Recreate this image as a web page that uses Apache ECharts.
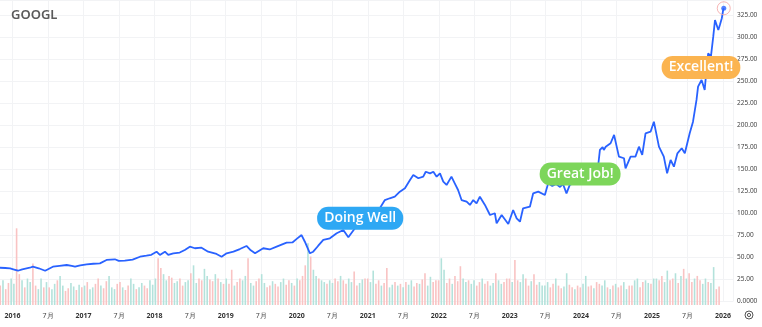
<!DOCTYPE html>
<html>
<head>
<meta charset="utf-8">
<script src="https://cdn.jsdelivr.net/npm/echarts@6/dist/echarts.min.js"></script>
<style>html,body{margin:0;padding:0;background:#fff;}#c{width:762px;height:327px;}</style>
</head>
<body>
<div id="c"></div>
<script>
const symbolName = 'GOOGL';

const priceDates = [
'2015-10-28','2015-11-25','2015-12-20','2016-01-05','2016-01-29','2016-02-20','2016-03-30','2016-04-15','2016-05-15','2016-06-17',
'2016-07-27','2016-08-30','2016-10-06','2016-11-01','2016-11-18','2016-12-15','2017-01-17','2017-02-20','2017-03-26','2017-04-29',
'2017-06-11','2017-07-01','2017-08-01','2017-09-10','2017-10-18','2017-11-20','2017-12-15','2018-01-11','2018-01-28','2018-02-23',
'2018-03-12','2018-04-07','2018-05-10','2018-06-05','2018-07-01','2018-07-27','2018-08-30','2018-10-03','2018-11-15','2018-12-11',
'2019-01-06','2019-02-10','2019-03-15','2019-04-18','2019-05-10','2019-06-01','2019-07-13','2019-08-15','2019-09-20','2019-11-10',
'2019-12-10','2020-01-01','2020-01-26','2020-02-12','2020-03-09','2020-03-26','2020-04-20','2020-05-17','2020-06-20','2020-07-25',
'2020-08-28','2020-09-23','2020-10-27','2020-11-25','2020-12-28','2021-01-25','2021-03-04','2021-03-30','2021-04-24','2021-05-20',
'2021-06-15','2021-07-11','2021-08-06','2021-08-23','2021-09-18','2021-10-13','2021-10-26','2021-11-17','2021-12-04','2021-12-21',
'2022-01-07','2022-01-24','2022-02-10','2022-03-07','2022-03-24','2022-04-10','2022-04-28','2022-05-24','2022-06-10','2022-06-27',
'2022-07-14','2022-07-31','2022-08-26','2022-09-21','2022-10-16','2022-10-25','2022-11-20','2022-12-24','2023-01-18','2023-02-05',
'2023-02-22','2023-03-10','2023-04-14','2023-05-01','2023-05-27','2023-06-30','2023-07-17','2023-08-07','2023-08-27','2023-09-16',
'2023-10-01','2023-10-19','2023-11-05','2023-12-09','2024-01-11','2024-02-16','2024-03-05','2024-03-28','2024-04-08','2024-04-22',
'2024-04-28','2024-05-08','2024-06-02','2024-06-20','2024-07-15','2024-08-10','2024-08-18','2024-09-13','2024-10-08','2024-10-26',
'2024-11-12','2024-11-29','2024-12-25','2025-01-11','2025-02-06','2025-03-03','2025-03-20','2025-04-07','2025-04-24','2025-05-12',
'2025-06-03','2025-06-19','2025-07-14','2025-07-31','2025-08-18','2025-08-26','2025-09-13','2025-09-29','2025-10-08','2025-10-17',
'2025-10-31','2025-11-12','2025-11-21','2025-11-29','2025-12-08','2025-12-16','2025-12-26','2026-01-02','2026-01-05'
];
const priceValues = [
38.3,38.0,37.5,36.5,34.9,36.5,38.3,39.5,37.7,34.9,
39.5,40.5,41.4,40.3,39.5,41.0,42.2,42.8,43.3,47.1,
47.9,46.0,46.3,47.5,50.8,52.0,53.0,56.5,52.8,56.5,
52.8,54.7,55.5,58.5,62.2,60.4,61.0,56.5,53.9,50.8,
54.7,56.5,59.5,63.0,58.0,54.7,60.4,59.0,62.2,66.7,
67.0,71.0,75.4,67.8,54.7,56.5,63.0,69.8,71.7,77.4,
81.1,72.8,83.0,88.0,87.0,92.0,105.7,115.1,117.1,118.9,
124.6,128.4,137.8,143.5,139.8,141.6,147.2,145.4,147.2,141.6,
145.4,135.9,132.2,141.6,134.1,126.5,115.1,113.2,109.5,115.1,
111.4,118.9,109.5,98.1,100.1,88.7,98.1,87.9,103.8,94.4,
90.5,105.7,107.5,122.7,124.6,120.8,134.1,131.0,133.3,129.9,
133.3,122.7,132.2,135.9,140.1,146.9,136.0,150.0,171.9,175.2,
171.9,175.6,179.5,188.9,164.3,162.5,151.1,164.3,164.3,175.6,
166.2,190.8,192.6,204.0,175.6,164.3,145.4,160.5,152.9,168.1,
173.8,168.1,190.8,204.0,228.6,243.7,251.3,239.9,262.6,281.6,
277.7,300.4,319.3,318.5,308.0,313.7,321.3,330.7,332.6
];

const volumeStart = '2015-10-30';
const volumeStepDays = 14;
const volumeValues = [
22,28,18,25,30,
24,87,35,28,20,30,26,47,22,18,30,20,26,
20,18,24,28,33,22,16,19,25,21,17,23,20,
22,26,18,20,24,30,22,19,27,33,20,18,24,
26,20,17,22,30,24,18,20,25,22,19,28,23,
30,53,42,35,28,33,31,25,27,30,22,26,28,
36,45,25,30,28,41,33,29,27,35,30,26,24,
30,24,40,22,26,30,28,33,53,25,22,27,30,
35,25,20,22,27,24,21,26,30,23,28,25,22,
30,28,33,45,70,55,40,33,30,28,26,24,28,
25,30,27,33,28,24,30,26,38,22,25,29,30,
30,26,39,24,28,22,25,42,20,23,26,22,24,
20,26,23,28,21,25,24,29,36,22,32,26,28,
28,53,40,25,30,24,33,27,44,30,26,28,24,
28,22,26,30,24,27,22,25,36,28,24,26,30,
30,26,51,28,26,35,30,22,27,35,23,26,22,
22,26,20,24,30,22,19,21,36,23,20,18,22,
20,24,33,21,22,19,26,24,22,28,20,18,22,
24,20,22,26,18,22,22,28,30,20,26,28,25,
24,30,30,28,33,26,39,28,30,36,25,33,41,
30,36,26,30,33,28,24,30,26,25,43,18,21
];
const volumeDirection = [
'duddu',
'udduduudduudu','duuduudduudud','uduuddudduuud','dudduuduudduu',
'udduudduudduu','duudduuddudud','uddudduuduudd','uuddudduuddud',
'uddduduuduudu','uddudduudduud','duuddudduudud','uduuddudduudd',
'duudduddduudu','uddudduuduudd','dudduuddudduu','uuddudduuddud',
'duuddudduudud','udduudduudduu','duudduuddudud','uddudduuduudd'
].join('');

const xTickLabelsMonth = '7月';
const yTickStep = 25;

const noteTexts = ['Doing Well', 'Great Job!', 'Excellent!'];
const noteDates = ['2020-11-23', '2023-12-28', '2025-09-10'];
const noteValues = [94.4, 144.6, 265.5];
const noteColors = ['#2ea8f4', '#7dd65a', '#fbb450'];

function toYear(s) {
  const d = new Date(s + 'T00:00:00Z');
  const y = d.getUTCFullYear();
  const a = Date.UTC(y, 0, 1), b = Date.UTC(y + 1, 0, 1);
  return y + (d.getTime() - a) / (b - a);
}
function msToYear(ms) {
  const y = new Date(ms).getUTCFullYear();
  const a = Date.UTC(y, 0, 1), b = Date.UTC(y + 1, 0, 1);
  return y + (ms - a) / (b - a);
}

const priceData = priceDates.map((d, i) => [toYear(d), priceValues[i]]);
const startMs = new Date(volumeStart + 'T00:00:00Z').getTime();
const volumeData = volumeValues.map((v, i) => ({
  value: [msToYear(startMs + i * volumeStepDays * 864e5), v],
  itemStyle: { color: (volumeDirection[i] || 'u') === 'd' ? '#f9c3c3' : '#b3e2db' }
}));
const last = priceData[priceData.length - 1];

const X_MIN = 2015.5, X_MAX = 2026.141;
const FONT = 'Noto Sans, Roboto, sans-serif';

const chart = echarts.init(document.getElementById('c'), null, { renderer: 'canvas' });
chart.setOption({
  animation: false,
  backgroundColor: '#ffffff',
  textStyle: { fontFamily: FONT },
  title: {
    text: symbolName, left: 6, top: 4,
    textStyle: { fontSize: 13, fontWeight: 600, color: '#5a5a5a', fontFamily: FONT }
  },
  grid: [
    { left: -23, right: 29, top: 0, bottom: 25.5, containLabel: false, outerBoundsMode: 'none' },
    { left: -23, right: 29, top: 0, bottom: 22, containLabel: false, outerBoundsMode: 'none' }
  ],
  xAxis: [
    {
      type: 'value', gridIndex: 0, min: X_MIN, max: X_MAX, interval: 0.5,
      axisLine: { show: false }, axisTick: { show: false },
      splitLine: { show: true, lineStyle: { color: '#f2f3f5', width: 1 } },
      axisLabel: {
        margin: 11, fontSize: 7, hideOverlap: false,
        formatter: function (v) {
          if (v < 2015.9) return '';
          if (Math.abs(v - Math.round(v)) < 1e-6) return '{y|' + Math.round(v) + '}';
          if (Math.abs(v - Math.floor(v) - 0.5) < 1e-6) return '{m|' + xTickLabelsMonth + '}';
          return '';
        },
        rich: {
          y: { fontSize: 7, fontWeight: 'bold', color: '#333', fontFamily: FONT },
          m: { fontSize: 7, color: '#444', fontFamily: FONT }
        }
      }
    },
    {
      type: 'value', gridIndex: 1, min: X_MIN, max: X_MAX, show: false
    }
  ],
  yAxis: [
    {
      type: 'value', gridIndex: 0, position: 'right', min: 0, max: 342, interval: yTickStep,
      axisLine: { show: false }, axisTick: { show: false },
      splitLine: { show: true, lineStyle: { color: '#f2f3f5', width: 1 } },
      axisLabel: {
        margin: 4, fontSize: 6.5, color: '#444', fontFamily: FONT,
        formatter: function (v) {
          if (Math.abs(v) < 1e-9) return '0.0000';
          if (Math.abs(v / yTickStep - Math.round(v / yTickStep)) < 1e-9) return v.toFixed(2);
          return '';
        }
      }
    },
    { type: 'value', gridIndex: 1, min: 0, max: 346, show: false }
  ],
  graphic: [
    { type: 'circle', shape: { cx: 749, cy: 315, r: 4 }, style: { fill: 'none', stroke: '#555', lineWidth: 1 } },
    { type: 'circle', shape: { cx: 749, cy: 315, r: 1.6 }, style: { fill: 'none', stroke: '#555', lineWidth: 1 } }
  ],
  series: [
    {
      type: 'bar', xAxisIndex: 1, yAxisIndex: 1, data: volumeData,
      barWidth: 1.6, z: 1, silent: true
    },
    {
      type: 'line', xAxisIndex: 0, yAxisIndex: 0, data: priceData,
      showSymbol: false, z: 3,
      lineStyle: { color: '#2962ff', width: 1.8 },
      itemStyle: { color: '#2962ff' },
      markPoint: {
        symbol: 'circle', symbolSize: 1,
        itemStyle: { color: 'rgba(0,0,0,0)' },
        data: noteTexts.map((t, i) => ({
          coord: [toYear(noteDates[i]), noteValues[i]],
          label: {
            show: true, position: 'inside', formatter: t,
            color: '#fff', fontSize: 14, fontWeight: 600, fontFamily: 'Open Sans, Noto Sans, sans-serif',
            backgroundColor: noteColors[i], borderRadius: 11, padding: [4, 7], lineHeight: 15
          }
        }))
      }
    },
    {
      type: 'scatter', xAxisIndex: 0, yAxisIndex: 0, data: [last], z: 4, silent: true,
      symbolSize: 13,
      itemStyle: { color: 'rgba(255,255,255,0)', borderColor: '#f4a3a3', borderWidth: 1 }
    },
    {
      type: 'scatter', xAxisIndex: 0, yAxisIndex: 0, data: [last], z: 5, silent: true,
      symbolSize: 5, itemStyle: { color: '#2962ff' }
    }
  ]
});
</script>
</body>
</html>
